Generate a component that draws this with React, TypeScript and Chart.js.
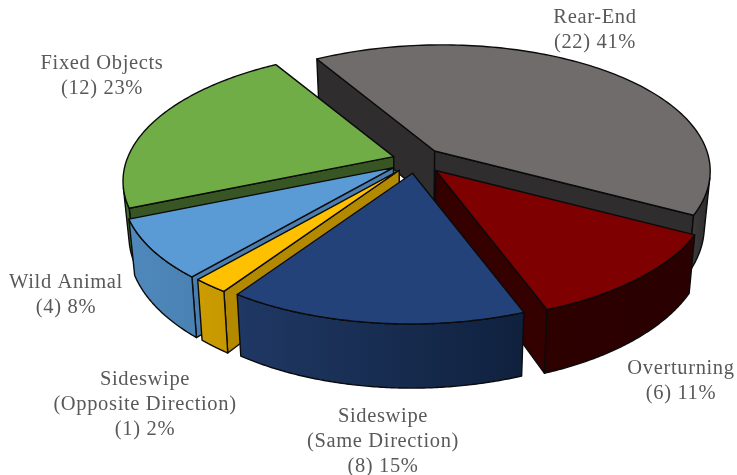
import React, { useEffect, useRef } from "react";
import { Chart, registerables } from "chart.js";

Chart.register(...registerables);

const categories = ["Rear-End", "Overturning", "Sideswipe (Same Direction)", "Sideswipe (Opposite Direction)", "Wild Animal", "Fixed Objects"];
const counts = [22, 6, 8, 1, 4, 12];
const percents = [41, 11, 15, 2, 8, 23];
const explode = [25, 22, 20, 20, 21, 21];
const topColors = ["#716c6c", "#7f0000", "#24427a", "#ffc000", "#5b9bd5", "#70ad47"];
const cutColors = ["#2f2d2d", "#340000", "#15294d", "#b38900", "#4a7eb0", "#375623"];
const wallFrom = ["#3a3838", "#2e0000", "#1f3864", "#cc9c00", "#4f88bb", "#4b7a30"];
const wallTo = ["#2c2a2a", "#2a0000", "#10213e", "#c79800", "#4a82b4", "#3f6b28"];
const labelLines = [
  ["Rear-End", "(22) 41%"],
  ["Overturning", "(6) 11%"],
  ["Sideswipe", "(Same Direction)", "(8) 15%"],
  ["Sideswipe", "(Opposite Direction)", "(1) 2%"],
  ["Wild Animal", "(4) 8%"],
  ["Fixed Objects", "(12) 23%"],
];
const labelSpots = [
  [595, 18],
  [681, 369],
  [383, 417],
  [145, 380],
  [66, 283],
  [102, 64],
];

const SCENE_X = 416;
const SCENE_Y = 160;
const DEPTH = 53;
const CONVERGE = 0.02;

type P = { x: number; y: number };

// Perspective view of the flat pie: maps a point of the unit disc to the screen.
function project(c: number, s: number): P {
  const w = 1 + 0.1543 * c + 0.0803 * s;
  return { x: (-136 * c + 232 * s) / w, y: (-106.2 * c - 65 * s) / w };
}
function weight(c: number, s: number) {
  return 1 + 0.1543 * c + 0.0803 * s;
}

const piePlugin = {
  id: "tiltedPie",
  beforeDatasetsDraw(chart: any) {
    const ctx: CanvasRenderingContext2D = chart.ctx;
    const arcs = chart.getDatasetMeta(0).data.map((el: any, i: number) => {
      const a0 = el.startAngle + Math.PI / 2;
      const a1 = el.endAngle + Math.PI / 2;
      const mid = (a0 + a1) / 2;
      const off = el.options.offset / el.outerRadius;
      const unit = project(Math.cos(mid), Math.sin(mid));
      return { i, a0, a1, ox: SCENE_X + unit.x * off, oy: SCENE_Y + unit.y * off, key: unit.y };
    });
    arcs.sort((p: any, q: any) => p.key - q.key);

    for (const arc of arcs) {
      const { i, a0, a1, ox, oy } = arc;
      const top = (c: number, s: number): P => {
        const p = project(c, s);
        return { x: ox + p.x, y: oy + p.y };
      };
      const low = (p: P, w: number): P => ({
        x: p.x - (p.x - SCENE_X) * CONVERGE,
        y: p.y + DEPTH / w,
      });
      const apex = { x: ox, y: oy };
      const apexLow = low(apex, 1);
      const steps = 120;
      const rim: { t: P; b: P }[] = [];
      for (let k = 0; k <= steps; k++) {
        const a = a0 + ((a1 - a0) * k) / steps;
        const c = Math.cos(a);
        const s = Math.sin(a);
        const t = top(c, s);
        rim.push({ t, b: low(t, weight(c, s)) });
      }

      ctx.lineJoin = "round";
      ctx.strokeStyle = "#0b0b0b";
      ctx.lineWidth = 1.4;

      const quad = (pts: P[], fill: string | CanvasGradient) => {
        ctx.beginPath();
        pts.forEach((p, n) => (n ? ctx.lineTo(p.x, p.y) : ctx.moveTo(p.x, p.y)));
        ctx.closePath();
        ctx.fillStyle = fill;
        ctx.fill();
        ctx.stroke();
      };
      const area = (p: P, q: P, r: P, u: P) => {
        const pts = [p, q, r, u];
        let sum = 0;
        for (let n = 0; n < 4; n++) {
          const m = pts[n];
          const o = pts[(n + 1) % 4];
          sum += m.x * o.y - o.x * m.y;
        }
        return sum;
      };

      // radial cut faces
      const first = rim[0];
      const last = rim[steps];
      if (area(apex, first.t, first.b, apexLow) < 0) quad([apex, first.t, first.b, apexLow], cutColors[i]);
      if (area(last.t, apex, apexLow, last.b) < 0) quad([last.t, apex, apexLow, last.b], cutColors[i]);

      // outer wall: runs of rim segments that face the viewer
      let run: { t: P; b: P }[] = [];
      const flush = () => {
        if (run.length > 1) {
          const xs = run.map((r) => r.t.x);
          const grad = ctx.createLinearGradient(Math.min(...xs), 0, Math.max(...xs), 0);
          grad.addColorStop(0, wallFrom[i]);
          grad.addColorStop(1, wallTo[i]);
          quad([...run.map((r) => r.t), ...run.map((r) => r.b).reverse()], grad);
        }
        run = [];
      };
      for (let k = 0; k < steps; k++) {
        const p = rim[k];
        const q = rim[k + 1];
        if (area(p.t, q.t, q.b, p.b) < 0) {
          if (!run.length) run.push(p);
          run.push(q);
        } else flush();
      }
      flush();

      // top face
      quad([apex, ...rim.map((r) => r.t)], topColors[i]);
    }
    return false;
  },
  afterDraw(chart: any) {
    const ctx: CanvasRenderingContext2D = chart.ctx;
    ctx.save();
    ctx.font = '20.5px "Liberation Serif"';
    (ctx as any).letterSpacing = "0.65px";
    ctx.fillStyle = "#595959";
    ctx.textAlign = "center";
    ctx.textBaseline = "middle";
    labelLines.forEach((lines, i) => {
      const [x, y] = labelSpots[i];
      lines.forEach((text, n) => ctx.fillText(text, x, y + n * 25));
    });
    ctx.restore();
  },
};

export default function App() {
  const ref = useRef<HTMLCanvasElement>(null);
  useEffect(() => {
    const chart = new Chart(ref.current as HTMLCanvasElement, {
      type: "pie",
      data: {
        labels: categories,
        datasets: [{ data: counts, backgroundColor: topColors, offset: explode, borderWidth: 0 }],
      },
      options: {
        responsive: false,
        animation: false,
        plugins: {
          legend: { display: false },
          tooltip: { enabled: false },
          title: { display: false },
        },
      },
      plugins: [piePlugin],
    } as any);
    return () => chart.destroy();
  }, []);
  return (
    <div style={{ position: "absolute", left: 0, top: 0, width: 737, height: 475, background: "#fff" }}>
      <canvas ref={ref} width={737} height={475} style={{ display: "block" }} />
    </div>
  );
}
